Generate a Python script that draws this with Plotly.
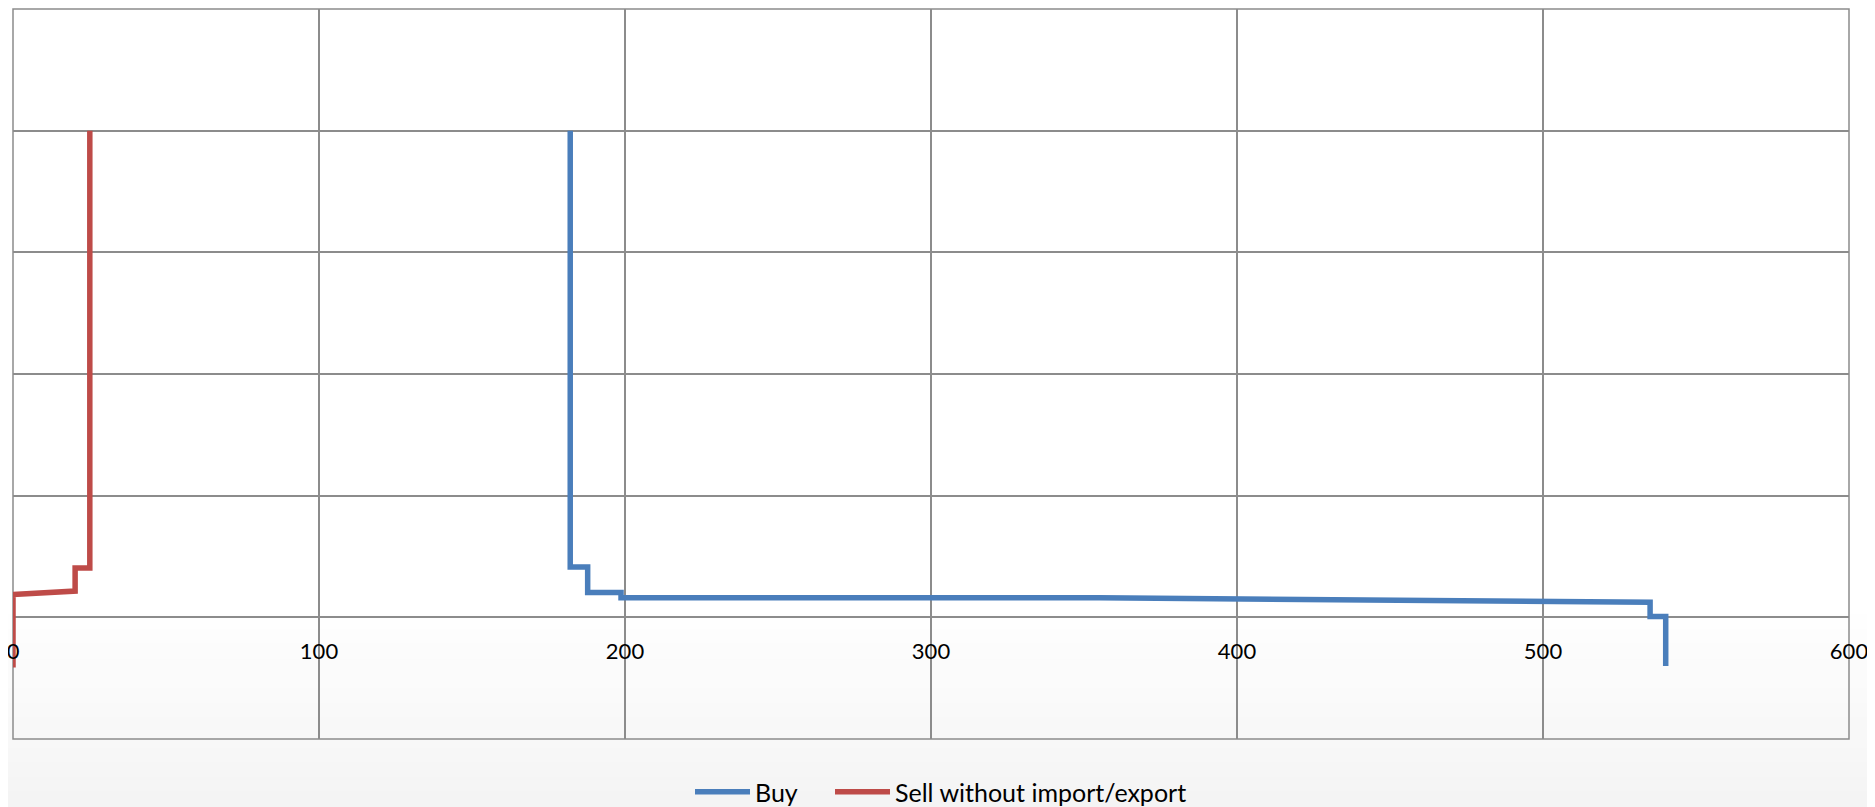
import plotly.graph_objects as go

# ---- data ----
buy_x = [182.1, 182.1, 187.8, 187.8, 198.7, 198.7, 355.0, 535.0, 535.0, 540.1, 540.1]
buy_y = [2000, 207, 207, 102, 102, 80, 80, 62, 3, 3, -200]

sell_x = [0.0, 0.0, 20.3, 20.3, 25.1, 25.1]
sell_y = [-206, 94, 108, 203, 203, 2000]

x_ticks = [0, 100, 200, 300, 400, 500, 600]
x_labels = ["0", "100", "200", "300", "400", "500", "600"]
y_range = [-500, 2500]
x_range = [0, 600]

GRID = "#8c8c8c"
BLUE = "#4a7ebb"
RED = "#be4b48"

fig = go.Figure()
fig.add_trace(go.Scatter(x=buy_x, y=buy_y, mode="lines", name="Buy",
                         line=dict(color=BLUE, width=5.5), legend="legend"))
fig.add_trace(go.Scatter(x=sell_x, y=sell_y, mode="lines", name="Sell without import/export",
                         line=dict(color=RED, width=5.5), legend="legend2"))

# the page body has an 8px margin, so the figure is offset by 8px
OFF = 8
W, H = 1875 - OFF, 807 - OFF
ml, mr, mt, mb = 13 - OFF, 26, 1, 68
pw, ph = W - ml - mr, H - mt - mb

shapes = []
# subtle bottom gradient of the chart area
n = 14
y_top_px = 600.0 - OFF
y_bot_px = float(H)
for i in range(n):
    a = y_top_px + (y_bot_px - y_top_px) * i / n
    b = y_top_px + (y_bot_px - y_top_px) * (i + 1) / n
    g = int(round(255 - 11 * (i + 0.5) / n))
    shapes.append(dict(type="rect", xref="paper", yref="paper", layer="below",
                       x0=-ml / pw, x1=1 + mr / pw,
                       y0=(H - mb - b) / ph, y1=(H - mb - a) / ph + 0.001,
                       fillcolor=f"rgb({g},{g},{g})", line=dict(width=0)))
# plot border
shapes.append(dict(type="rect", xref="paper", yref="paper", layer="below",
                   x0=0, x1=1, y0=0, y1=1, line=dict(color=GRID, width=1.5),
                   fillcolor="rgba(0,0,0,0)"))

zero_pos = (0 - y_range[0]) / (y_range[1] - y_range[0])

leg_common = dict(orientation="h", xref="container", xanchor="left",
                  yref="container", y=(H - (792 - OFF)) / H, yanchor="middle",
                  font=dict(family="Lato", size=25, color="black"),
                  bgcolor="rgba(0,0,0,0)", itemwidth=55)

fig.update_layout(
    width=W, height=H,
    margin=dict(l=ml, r=mr, t=mt, b=mb, autoexpand=False),
    paper_bgcolor="white",
    plot_bgcolor="rgba(0,0,0,0)",
    font=dict(family="Lato", size=22, color="black"),
    shapes=shapes,
    showlegend=True,
    legend=dict(x=(690 - OFF) / W, **leg_common),
    legend2=dict(x=(830 - OFF) / W, **leg_common),
    xaxis=dict(range=x_range, tickvals=x_ticks, ticktext=x_labels,
               showgrid=True, gridcolor=GRID, gridwidth=1.5,
               zeroline=False, showline=False, automargin=False,
               anchor="free", position=zero_pos, ticklabeloverflow="allow",
               ticks="outside", ticklen=14, tickcolor="rgba(0,0,0,0)",
               tickfont=dict(family="Lato", size=22, color="black")),
    yaxis=dict(range=y_range, dtick=500, tick0=0, automargin=False,
               showgrid=True, gridcolor=GRID, gridwidth=1.5,
               zeroline=True, zerolinecolor=GRID, zerolinewidth=1.5,
               showticklabels=False, showline=False, ticks=""),
)

fig.write_html("out.html")
